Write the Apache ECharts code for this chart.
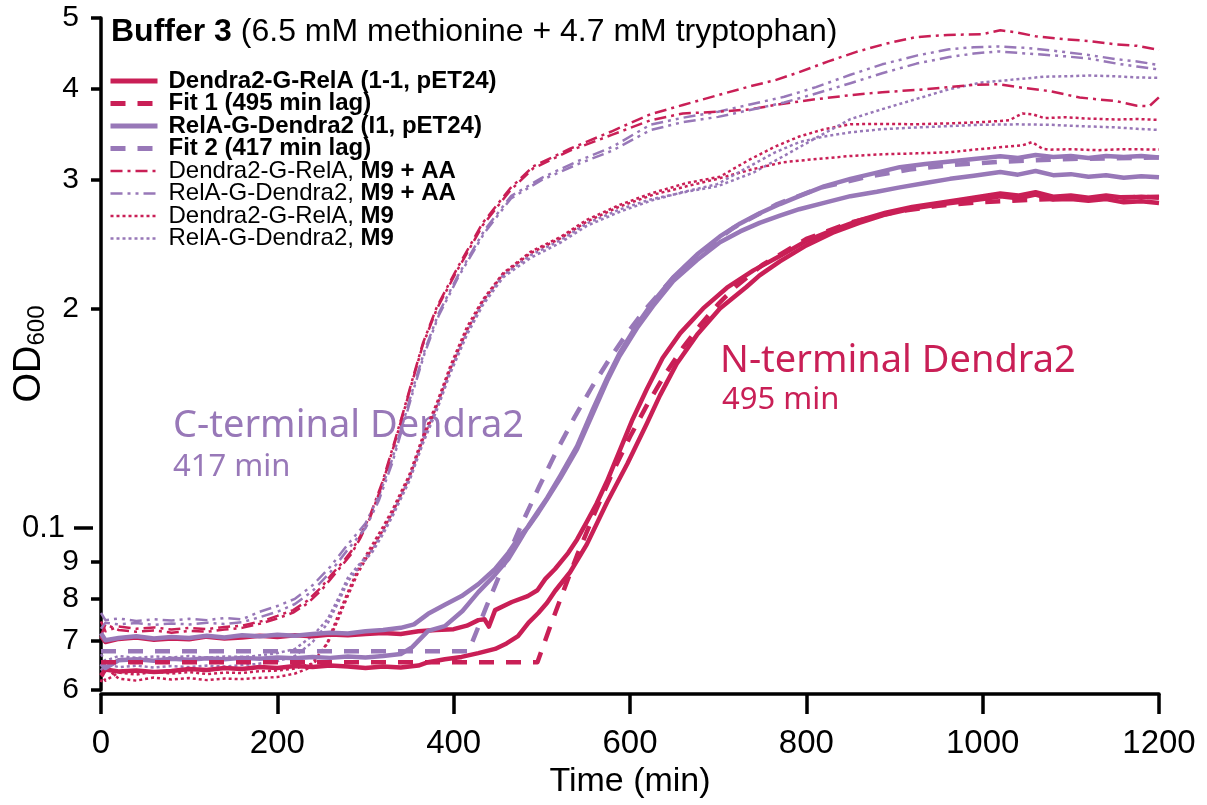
<!DOCTYPE html>
<html>
<head>
<meta charset="utf-8">
<title>Buffer 3 growth curves</title>
<script src="https://cdn.jsdelivr.net/npm/echarts@6/dist/echarts.min.js"></script>
<style>
  html, body { margin: 0; padding: 0; background: #fff; }
  #chart { width: 1207px; height: 805px; }
</style>
</head>
<body>
<div id="chart"></div>
<script>
// time (min), OD600

// Dendra2-G-RelA (1-1, pET24), two replicates
const nTermRep1 = [[0,0.0712],[5,0.0698],[20,0.0705],[40,0.0708],[60,0.0703],[80,0.0706],[100,0.0704],[120,0.071],[140,0.0706],[160,0.0708],[180,0.0712],[200,0.0709],[220,0.0713],[240,0.0711],[260,0.0715],[280,0.0713],[300,0.0716],[320,0.0718],[340,0.0716],[360,0.0722],[380,0.0725],[400,0.0727],[415,0.0735],[428,0.0748],[435,0.075],[440,0.0733],[447,0.0772],[466,0.0792],[484,0.0807],[495,0.0822],[504,0.0852],[515,0.0879],[530,0.0925],[540,0.0965],[551,0.102],[562,0.108],[574,0.116],[589,0.1283],[603,0.141],[619,0.155],[637,0.171],[657,0.185],[683,0.2],[710,0.2135],[740,0.2255],[770,0.236],[800,0.2475],[830,0.256],[860,0.264],[890,0.2705],[920,0.2755],[950,0.279],[980,0.2825],[1000,0.285],[1020,0.2875],[1040,0.2855],[1060,0.2885],[1080,0.2845],[1100,0.2855],[1120,0.2835],[1140,0.2855],[1160,0.2835],[1180,0.2845],[1200,0.2835]];
const nTermRep2 = [[0,0.0628],[5,0.064],[20,0.0636],[40,0.0638],[60,0.0635],[80,0.0637],[100,0.0641],[120,0.0639],[140,0.0643],[160,0.0641],[180,0.0645],[200,0.0643],[220,0.0647],[240,0.0645],[260,0.0648],[280,0.0646],[300,0.0643],[320,0.0646],[340,0.0644],[360,0.0648],[371,0.0655],[390,0.0661],[409,0.0666],[428,0.0674],[447,0.0683],[460,0.0695],[473,0.0711],[485,0.0742],[496,0.0765],[506,0.079],[515,0.082],[532,0.087],[551,0.095],[574,0.1085],[597,0.1225],[619,0.139],[634,0.152],[653,0.168],[676,0.184],[702,0.2],[732,0.214],[747,0.222],[770,0.232],[800,0.244],[830,0.254],[860,0.262],[890,0.269],[920,0.274],[950,0.2775],[980,0.2805],[1000,0.2825],[1020,0.285],[1040,0.283],[1060,0.2865],[1080,0.282],[1100,0.2825],[1120,0.281],[1140,0.2825],[1160,0.2795],[1180,0.2805],[1200,0.279]];
const fit1Lag495 = [[0,0.0655],[495,0.0655],[510,0.0736],[525,0.0823],[540,0.0918],[560,0.1049],[580,0.119],[600,0.1334],[620,0.148],[640,0.1626],[660,0.1767],[680,0.19],[700,0.2027],[720,0.2143],[750,0.2294],[800,0.249],[850,0.2623],[900,0.271],[950,0.2765],[1000,0.2798],[1100,0.2832],[1200,0.2845]];

// RelA-G-Dendra2 (I1, pET24), two replicates
const cTermRep1 = [[0,0.0718],[5,0.0702],[20,0.0707],[40,0.0711],[60,0.0706],[80,0.0709],[100,0.0707],[120,0.0712],[140,0.0708],[160,0.0713],[180,0.0711],[200,0.0714],[220,0.0712],[240,0.0716],[260,0.0719],[280,0.0717],[300,0.0722],[320,0.0725],[340,0.073],[355,0.0738],[371,0.0763],[390,0.0785],[409,0.0807],[428,0.0838],[447,0.0879],[462,0.0925],[475,0.0975],[485,0.1005],[496,0.105],[506,0.1096],[521,0.1171],[540,0.1283],[558,0.1437],[574,0.159],[588,0.172],[608,0.188],[626,0.2014],[649,0.218],[676,0.233],[702,0.2464],[725,0.255],[747,0.262],[770,0.268],[792,0.2735],[820,0.279],[850,0.285],[880,0.289],[906,0.293],[935,0.297],[963,0.301],[990,0.304],[1020,0.3075],[1040,0.305],[1060,0.3085],[1080,0.3045],[1100,0.3055],[1120,0.303],[1140,0.3045],[1160,0.302],[1180,0.3035],[1200,0.3025]];
const cTermRep2 = [[0,0.0652],[5,0.0643],[20,0.0659],[40,0.0661],[60,0.0658],[80,0.0662],[100,0.066],[120,0.0663],[140,0.0661],[160,0.0664],[180,0.0662],[200,0.0665],[220,0.0663],[240,0.0666],[260,0.0664],[280,0.0667],[300,0.0665],[320,0.0668],[340,0.0672],[353,0.0687],[371,0.0723],[390,0.0734],[410,0.077],[428,0.0817],[445,0.0858],[462,0.0907],[475,0.0962],[485,0.1008],[496,0.1055],[506,0.11],[521,0.118],[540,0.1295],[558,0.1455],[574,0.1605],[588,0.1735],[608,0.19],[626,0.204],[649,0.2205],[676,0.237],[702,0.251],[725,0.2615],[747,0.27],[770,0.278],[792,0.285],[820,0.294],[850,0.301],[880,0.307],[906,0.3123],[935,0.3155],[963,0.318],[990,0.3205],[1020,0.3233],[1040,0.3215],[1060,0.3245],[1080,0.3225],[1100,0.3235],[1120,0.3215],[1140,0.3235],[1160,0.3225],[1180,0.3235],[1200,0.322]];
const fit2Lag417 = [[0,0.0678],[417,0.0678],[437,0.078],[457,0.0891],[477,0.1012],[497,0.114],[517,0.1277],[537,0.1418],[557,0.1562],[577,0.1707],[597,0.1851],[617,0.1991],[647,0.219],[677,0.237],[717,0.2578],[767,0.278],[817,0.2929],[867,0.3025],[917,0.31],[967,0.3145],[1017,0.3176],[1100,0.3205],[1200,0.322]];

// M9 + AA (dash-dot)
const nTermAA1 = [[0,0.0745],[5,0.0722],[20,0.0733],[40,0.0728],[60,0.0731],[80,0.0726],[100,0.073],[120,0.0727],[140,0.0732],[160,0.0735],[183,0.0746],[200,0.0758],[218,0.0772],[234,0.0795],[250,0.083],[262,0.0865],[273,0.0895],[284,0.093],[294,0.0975],[305,0.104],[319,0.1155],[331,0.129],[343,0.1445],[354,0.161],[365,0.179],[381,0.201],[404,0.227],[433,0.262],[464,0.292],[490,0.313],[532,0.331],[580,0.35],[623,0.369],[660,0.38],[700,0.392],[736,0.403],[765,0.411],[792,0.4215],[825,0.436],[856,0.449],[890,0.461],[924,0.4707],[960,0.474],[999,0.475],[1020,0.481],[1038,0.478],[1060,0.472],[1094,0.4675],[1120,0.465],[1152,0.46],[1175,0.458],[1200,0.452]];
const nTermAA2 = [[0,0.0712],[5,0.0738],[20,0.0725],[40,0.0721],[60,0.0724],[80,0.0719],[100,0.0723],[120,0.0721],[140,0.0726],[160,0.073],[183,0.0741],[200,0.0752],[218,0.0766],[234,0.0788],[250,0.0822],[262,0.0856],[273,0.0888],[284,0.0922],[294,0.0968],[305,0.1032],[319,0.1148],[331,0.1282],[343,0.1438],[354,0.1602],[365,0.1782],[381,0.1998],[404,0.2255],[433,0.26],[464,0.29],[490,0.311],[532,0.329],[580,0.346],[623,0.362],[660,0.37],[700,0.372],[736,0.3747],[770,0.381],[811,0.387],[850,0.392],[886,0.3956],[925,0.3985],[962,0.402],[990,0.405],[1018,0.4057],[1040,0.402],[1076,0.397],[1110,0.389],[1152,0.3846],[1175,0.379],[1189,0.3785],[1200,0.3895]];
const cTermAA1 = [[0,0.0765],[5,0.0748],[20,0.0752],[40,0.0746],[60,0.075],[80,0.0747],[100,0.0751],[120,0.0748],[140,0.0753],[160,0.075],[180,0.0768],[200,0.0782],[220,0.08],[240,0.0835],[260,0.0885],[280,0.095],[300,0.1015],[315,0.1105],[330,0.124],[343,0.14],[355,0.157],[367,0.175],[383,0.197],[405,0.222],[435,0.256],[465,0.285],[500,0.302],[540,0.318],[580,0.333],[623,0.357],[660,0.365],[700,0.372],[736,0.3806],[775,0.39],[811,0.402],[850,0.418],[886,0.432],[925,0.444],[962,0.453],[990,0.456],[1018,0.457],[1050,0.455],[1094,0.449],[1120,0.445],[1152,0.439],[1175,0.436],[1200,0.431]];
const cTermAA2 = [[0,0.0728],[5,0.0742],[20,0.0738],[40,0.0741],[60,0.0737],[80,0.074],[100,0.0738],[120,0.0742],[140,0.0739],[160,0.0743],[180,0.0755],[200,0.0768],[220,0.0787],[240,0.082],[260,0.087],[280,0.0935],[300,0.1],[315,0.109],[330,0.1225],[343,0.1385],[355,0.1555],[367,0.1735],[383,0.1955],[405,0.2205],[435,0.254],[465,0.283],[500,0.3],[540,0.315],[580,0.329],[623,0.351],[660,0.36],[700,0.366],[736,0.374],[775,0.383],[811,0.394],[850,0.407],[886,0.42],[925,0.433],[962,0.442],[990,0.447],[1018,0.45],[1050,0.447],[1094,0.443],[1120,0.44],[1152,0.433],[1175,0.429],[1200,0.425]];

// M9 (dotted)
const nTermM9_1 = [[0,0.0615],[5,0.0645],[20,0.0622],[40,0.0618],[60,0.0624],[80,0.062],[100,0.0623],[120,0.0619],[140,0.0622],[160,0.0621],[175,0.0623],[200,0.0625],[220,0.0632],[239,0.0645],[257,0.0698],[270,0.0765],[280,0.0817],[291,0.0875],[300,0.0915],[308,0.095],[320,0.1005],[331,0.1062],[350,0.1185],[365,0.1335],[381,0.1485],[396,0.1665],[415,0.1885],[433,0.2055],[456,0.2235],[487,0.239],[521,0.2505],[551,0.2645],[589,0.2775],[626,0.288],[664,0.297],[702,0.303],[720,0.312],[736,0.32],[764,0.333],[792,0.344],[820,0.352],[850,0.3576],[885,0.358],[924,0.3576],[960,0.3585],[999,0.36],[1030,0.362],[1045,0.37],[1057,0.369],[1070,0.3645],[1094,0.3656],[1120,0.364],[1152,0.363],[1175,0.3635],[1200,0.3625]];
const nTermM9_2 = [[0,0.0632],[5,0.0618],[20,0.0634],[40,0.063],[60,0.0636],[80,0.0632],[100,0.0635],[120,0.0631],[140,0.0634],[160,0.0633],[175,0.0636],[200,0.0638],[220,0.0642],[239,0.0652],[257,0.0695],[270,0.0755],[280,0.0808],[291,0.0866],[300,0.0905],[308,0.094],[320,0.0995],[331,0.1052],[350,0.1175],[365,0.1322],[381,0.1472],[396,0.165],[415,0.1866],[433,0.2045],[456,0.2228],[487,0.238],[521,0.2495],[551,0.263],[589,0.276],[626,0.2862],[664,0.294],[699,0.301],[740,0.3105],[774,0.3172],[812,0.3205],[850,0.3235],[887,0.3253],[925,0.3262],[962,0.3273],[990,0.33],[1019,0.3325],[1045,0.3345],[1056,0.338],[1068,0.331],[1076,0.33],[1100,0.3305],[1130,0.3295],[1160,0.3305],[1200,0.3302]];
const cTermM9_1 = [[0,0.0672],[5,0.0658],[20,0.0668],[40,0.0664],[60,0.0667],[80,0.0665],[100,0.0668],[120,0.0664],[140,0.0667],[160,0.0666],[175,0.0668],[200,0.0674],[220,0.0683],[240,0.0712],[257,0.075],[270,0.0805],[280,0.0855],[294,0.0895],[308,0.0935],[320,0.099],[331,0.1048],[350,0.1172],[365,0.1318],[381,0.1465],[396,0.1642],[415,0.1855],[433,0.2035],[456,0.222],[487,0.2365],[521,0.248],[551,0.2615],[589,0.2735],[623,0.282],[664,0.289],[699,0.294],[740,0.307],[774,0.3233],[810,0.342],[850,0.3634],[886,0.375],[924,0.387],[962,0.3994],[999,0.408],[1038,0.412],[1070,0.4155],[1094,0.416],[1120,0.417],[1152,0.416],[1175,0.4145],[1200,0.414]];
const cTermM9_2 = [[0,0.0638],[5,0.0652],[20,0.0645],[40,0.0648],[60,0.0644],[80,0.0647],[100,0.0645],[120,0.0648],[140,0.0646],[160,0.0649],[175,0.0651],[200,0.0657],[220,0.0668],[240,0.0698],[257,0.074],[270,0.0795],[280,0.0845],[294,0.0888],[308,0.0928],[320,0.0982],[331,0.104],[350,0.1162],[365,0.1305],[381,0.1452],[396,0.1628],[415,0.184],[433,0.202],[456,0.2205],[487,0.2345],[521,0.246],[551,0.2595],[589,0.2715],[626,0.2815],[664,0.2895],[699,0.296],[736,0.3133],[764,0.327],[792,0.338],[820,0.344],[850,0.3486],[885,0.352],[924,0.354],[960,0.3555],[999,0.357],[1040,0.3575],[1076,0.357],[1110,0.3555],[1152,0.354],[1175,0.3525],[1200,0.3512]];

// axis ticks
const xTickStep = 200;
const yRange = [0.06, 0.5];
const yTickValues = [0.06, 0.07, 0.08, 0.09, 0.2, 0.3, 0.4, 0.5];
const yTickLabels = ['6', '7', '8', '9', '2', '3', '4', '5'];
const yMainTick = 0.1;

const names = [
  'Dendra2-G-RelA (1-1, pET24)',
  'Fit 1 (495 min lag)',
  'RelA-G-Dendra2 (I1, pET24)',
  'Fit 2 (417 min lag)',
  'Dendra2-G-RelA, M9 + AA',
  'RelA-G-Dendra2, M9 + AA',
  'Dendra2-G-RelA, M9',
  'RelA-G-Dendra2, M9'
];

const RED = '#c91f56';
const PURPLE = '#9878b8';
const FONT = '"Liberation Sans", Arial, sans-serif';
const THICK = 4.5;
const THIN = 2.5;

const lg = Math.log10;
const yMin = lg(yRange[0]);
const yMax = lg(yRange[1]);

function line(name, pts, color, width, dash, z) {
  return {
    name: name,
    type: 'line',
    data: pts.map(function (p) { return [p[0], lg(p[1])]; }),
    symbol: 'none',
    z: z,
    silent: true,
    lineStyle: { color: color, width: width, type: dash, cap: 'butt', join: 'round' },
    itemStyle: { color: color },
    emphasis: { disabled: true }
  };
}

const dashDot = [12, 5, 3, 5];
const dashDotDot = [12, 5, 3, 5, 3, 5];
const dotted = [3, 3];
const fitDash = [15, 12];

const series = [
  line(names[0], nTermRep1, RED, THICK, 'solid', 5),
  line(names[1], fit1Lag495, RED, THICK, fitDash, 7),
  line(names[2], cTermRep1, PURPLE, THICK, 'solid', 5),
  line(names[3], fit2Lag417, PURPLE, THICK, fitDash, 7),
  line(names[4], nTermAA1, RED, THIN, dashDot, 3),
  line(names[5], cTermAA1, PURPLE, THIN, dashDotDot, 3),
  line(names[6], nTermM9_1, RED, THIN, dotted, 3),
  line(names[7], cTermM9_1, PURPLE, THIN, dotted, 3),
  line(names[0], nTermRep2, RED, THICK, 'solid', 5),
  line(names[2], cTermRep2, PURPLE, THICK, 'solid', 5),
  line(names[4], nTermAA2, RED, THIN, dashDot, 3),
  line(names[5], cTermAA2, PURPLE, THIN, dashDotDot, 3),
  line(names[6], nTermM9_2, RED, THIN, dotted, 3),
  line(names[7], cTermM9_2, PURPLE, THIN, dotted, 3)
];

const legendData = names.map(function (n, i) {
  return { name: n, lineStyle: { width: i < 4 ? 5 : THIN } };
});

const chart = echarts.init(document.getElementById('chart'), null, { renderer: 'canvas' });

chart.setOption({
  animation: false,
  backgroundColor: '#fff',
  title: {
    text: '{b|Buffer 3} (6.5 mM methionine + 4.7 mM tryptophan)',
    left: 106,
    top: 11,
    textStyle: {
      fontFamily: FONT, fontSize: 32, fontWeight: 'normal', color: '#000',
      rich: { b: { fontFamily: FONT, fontSize: 32, fontWeight: 'bold', color: '#000' } }
    }
  },
  legend: {
    data: legendData,
    orient: 'vertical',
    left: 103,
    top: 64,
    itemWidth: 47,
    itemHeight: 14,
    itemGap: -1.5,
    selectedMode: false,
    itemStyle: { opacity: 0 },
    formatter: function (name) {
      const i = name.indexOf(', M9');
      if (i < 0) return '{bf|' + name + '}';
      return '{nf|' + name.slice(0, i + 2) + '}{b|' + name.slice(i + 2) + '}';
    },
    textStyle: {
      fontFamily: FONT, fontSize: 24, color: '#000',
      rich: {
        bf: { fontFamily: FONT, fontSize: 24, fontWeight: 'bold', color: '#000', padding: [0, 0, 0, 6] },
        nf: { fontFamily: FONT, fontSize: 24, color: '#000', padding: [0, 0, 0, 6] },
        b: { fontFamily: FONT, fontSize: 24, fontWeight: 'bold', color: '#000' }
      }
    }
  },
  grid: { left: 101, right: 48, top: 18, bottom: 115, outerBoundsMode: 'none' },
  xAxis: {
    type: 'value',
    min: 0,
    max: 1200,
    interval: xTickStep,
    offset: 4,
    name: 'Time (min)',
    nameLocation: 'middle',
    nameGap: 68,
    nameTextStyle: { fontFamily: FONT, fontSize: 34, color: '#000' },
    axisLine: { lineStyle: { color: '#000', width: 3.5 } },
    axisTick: { length: 20, lineStyle: { color: '#000', width: 3.5 } },
    axisLabel: {
      fontFamily: FONT, fontSize: 33, color: '#000', margin: 33,
      formatter: function (v) { return String(v); }
    },
    splitLine: { show: false }
  },
  yAxis: [{
    type: 'value',
    position: 'left',
    min: yMin,
    max: yMax,
    offset: 8,
    name: '{od|OD}{sub|600}',
    nameLocation: 'middle',
    nameGap: 44,
    nameRotate: 90,
    nameTextStyle: {
      rich: {
        od: { fontFamily: FONT, fontSize: 38, color: '#000', lineHeight: 42, verticalAlign: 'bottom' },
        sub: { fontFamily: FONT, fontSize: 24, color: '#000', lineHeight: 22, verticalAlign: 'bottom' }
      }
    },
    axisLine: { show: true, lineStyle: { color: '#000', width: 3.5 } },
    axisTick: { show: true, length: 10, customValues: yTickValues.map(lg), lineStyle: { color: '#000', width: 3.5 } },
    axisLabel: {
      customValues: yTickValues.map(lg),
      fontFamily: FONT, fontSize: 30, color: '#000', margin: 14,
      formatter: function (v) {
        let best = 0;
        yTickValues.forEach(function (t, i) {
          if (Math.abs(lg(t) - v) < Math.abs(lg(yTickValues[best]) - v)) best = i;
        });
        return yTickLabels[best];
      }
    },
    splitLine: { show: false }
  }, {
    type: 'value',
    position: 'left',
    min: yMin,
    max: yMax,
    offset: 8,
    axisLine: { show: false },
    axisTick: { show: true, length: 19, customValues: [lg(yMainTick)], lineStyle: { color: '#000', width: 3.5 } },
    axisLabel: {
      customValues: [lg(yMainTick)],
      fontFamily: FONT, fontSize: 31, color: '#000', margin: 28,
      formatter: function () { return String(yMainTick); }
    },
    splitLine: { show: false }
  }],
  graphic: [
    { type: 'text', silent: true, style: { x: 173, y: 426, text: 'C-terminal Dendra2', font: '38px "Noto Sans"', fill: PURPLE, textVerticalAlign: 'middle' } },
    { type: 'text', silent: true, style: { x: 173, y: 467, text: '417 min', font: '31px "Noto Sans"', fill: PURPLE, textVerticalAlign: 'middle' } },
    { type: 'text', silent: true, style: { x: 720, y: 361, text: 'N-terminal Dendra2', font: '38px "Noto Sans"', fill: RED, textVerticalAlign: 'middle' } },
    { type: 'text', silent: true, style: { x: 722, y: 400, text: '495 min', font: '31px "Noto Sans"', fill: RED, textVerticalAlign: 'middle' } }
  ],
  series: series
});
</script>
</body>
</html>
